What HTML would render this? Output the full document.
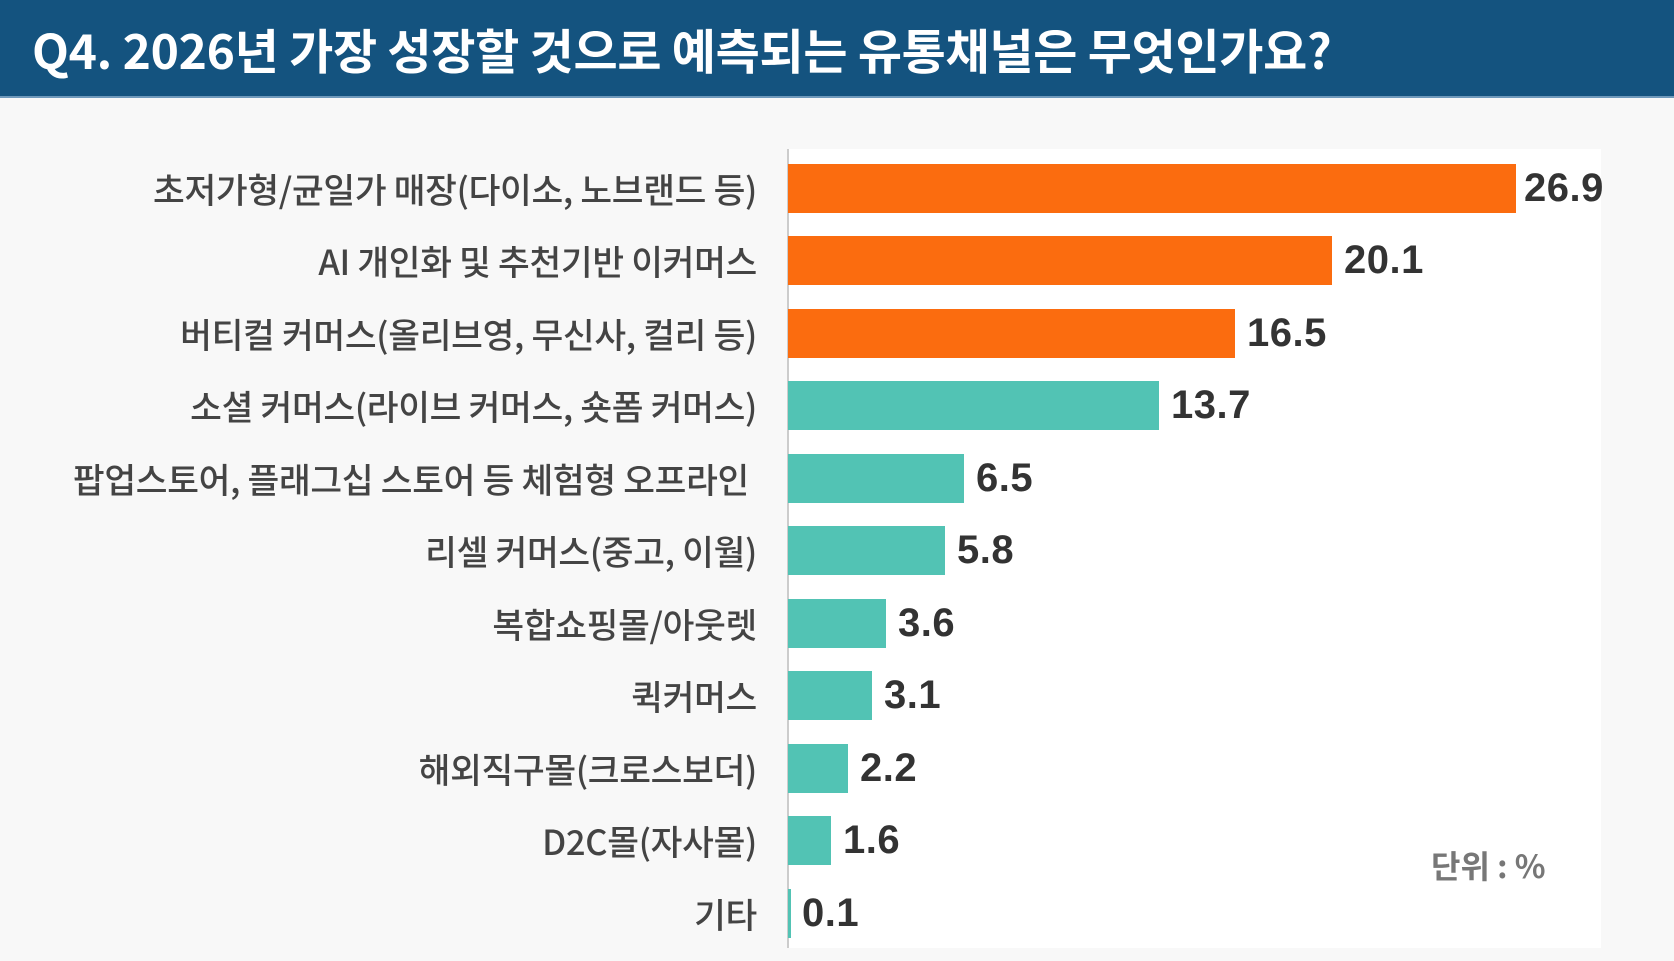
<!DOCTYPE html>
<html><head><meta charset="utf-8"><style>
body{margin:0;width:1674px;height:961px;background:#f8f8f8;position:relative;overflow:hidden;font-family:"Liberation Sans","Noto Sans CJK KR",sans-serif}
.hd{position:absolute;left:0;top:0;width:1674px;height:98px;background:#14537f;border-bottom:2px solid #6f99bb;box-sizing:border-box}
.hd span{position:absolute;left:32px;top:20px;font-size:48px;font-weight:bold;color:#fff;line-height:56px;font-family:"Noto Sans CJK KR",sans-serif;letter-spacing:-0.3px}
.pa{position:absolute;left:787px;top:149px;width:814px;height:799px;background:#fff;border-left:2px solid #ccc;box-sizing:border-box}
.r{position:absolute;left:0;width:1674px;height:49px}
.l{position:absolute;right:917px;top:0;line-height:49px;font-size:34.5px;font-weight:500;color:#444;white-space:nowrap;font-family:"Noto Sans CJK KR",sans-serif;letter-spacing:-0.3px}
.b{position:absolute;left:788px;top:0;height:49px}
.v{position:absolute;top:0;line-height:49px;font-size:40px;font-weight:bold;color:#333;letter-spacing:0.5px}
.u{position:absolute;left:1431px;top:842px;font-size:32px;font-weight:bold;color:#777;font-family:"Noto Sans CJK KR",sans-serif}
</style></head><body>
<div class="hd"><span>Q4. 2026년 가장 성장할 것으로 예측되는 유통채널은 무엇인가요?</span></div>
<div class="pa"></div>
<div class="r" style="top:164px"><div class="l">초저가형/균일가 매장(다이소, 노브랜드 등)</div><div class="b" style="width:728px;background:#fb6c0f"></div><div class="v" style="left:1524px">26.9</div></div>
<div class="r" style="top:236px"><div class="l">AI 개인화 및 추천기반 이커머스</div><div class="b" style="width:544px;background:#fb6c0f"></div><div class="v" style="left:1344px">20.1</div></div>
<div class="r" style="top:309px"><div class="l">버티컬 커머스(올리브영, 무신사, 컬리 등)</div><div class="b" style="width:447px;background:#fb6c0f"></div><div class="v" style="left:1247px">16.5</div></div>
<div class="r" style="top:381px"><div class="l">소셜 커머스(라이브 커머스, 숏폼 커머스)</div><div class="b" style="width:371px;background:#52c3b4"></div><div class="v" style="left:1171px">13.7</div></div>
<div class="r" style="top:454px"><div class="l" style="right:925px">팝업스토어, 플래그십 스토어 등 체험형 오프라인</div><div class="b" style="width:176px;background:#52c3b4"></div><div class="v" style="left:976px">6.5</div></div>
<div class="r" style="top:526px"><div class="l">리셀 커머스(중고, 이월)</div><div class="b" style="width:157px;background:#52c3b4"></div><div class="v" style="left:957px">5.8</div></div>
<div class="r" style="top:599px"><div class="l">복합쇼핑몰/아웃렛</div><div class="b" style="width:98px;background:#52c3b4"></div><div class="v" style="left:898px">3.6</div></div>
<div class="r" style="top:671px"><div class="l">퀵커머스</div><div class="b" style="width:84px;background:#52c3b4"></div><div class="v" style="left:884px">3.1</div></div>
<div class="r" style="top:744px"><div class="l">해외직구몰(크로스보더)</div><div class="b" style="width:60px;background:#52c3b4"></div><div class="v" style="left:860px">2.2</div></div>
<div class="r" style="top:816px"><div class="l">D2C몰(자사몰)</div><div class="b" style="width:43px;background:#52c3b4"></div><div class="v" style="left:843px">1.6</div></div>
<div class="r" style="top:889px"><div class="l">기타</div><div class="b" style="width:3px;background:#52c3b4"></div><div class="v" style="left:802px">0.1</div></div>
<div class="u">단위 : %</div>
</body></html>
